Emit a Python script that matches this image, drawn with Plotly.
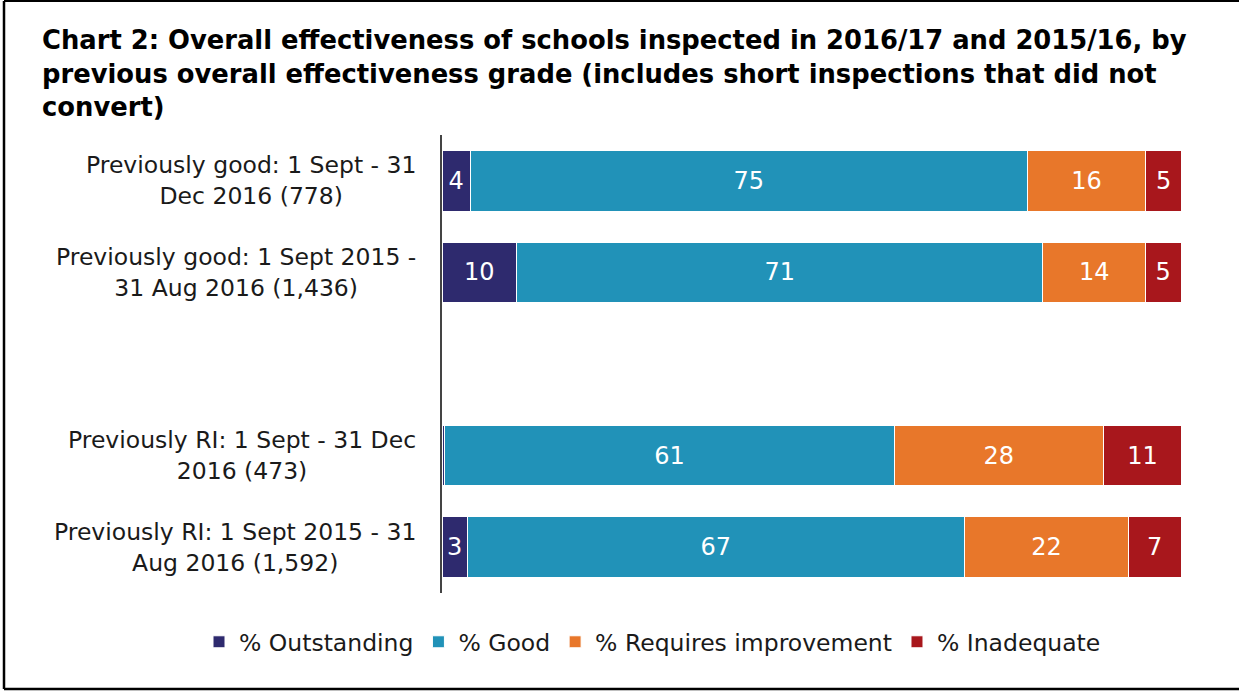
import plotly.graph_objects as go

categories = [
    "Previously good: 1 Sept - 31<br>Dec 2016 (778)",
    "Previously good: 1 Sept 2015 -<br>31 Aug 2016 (1,436)",
    " ",
    "Previously RI: 1 Sept - 31 Dec<br>2016 (473)",
    "Previously RI: 1 Sept 2015 - 31<br>Aug 2016 (1,592)",
]
series_names = ["% Outstanding", "% Good", "% Requires improvement", "% Inadequate"]
outstanding = [3.8, 10.1, None, 0.4, 3.4]
good = [75.4, 71.2, None, 60.8, 67.3]
requires_improvement = [16.0, 13.9, None, 28.3, 22.2]
inadequate = [4.9, 4.8, None, 10.6, 7.1]
colors = ["#2E2A6E", "#2192B8", "#E8772A", "#A8171C"]

title_lines = [
    "Chart 2: Overall effectiveness of schools inspected in 2016/17 and 2015/16, by",
    "previous overall effectiveness grade (includes short inspections that did not",
    "convert)",
]

W, H = 1239, 697
L, R, T, B = 442, 58, 135, 104
pw, ph = W - L - R, H - T - B
FONT = "Tahoma, 'DejaVu Sans', sans-serif"


def px_x(px):
    return (px - L) / pw


def px_y(py):
    return (H - B - py) / ph


fig = go.Figure()
for name, vals, col in zip(series_names, [outstanding, good, requires_improvement, inadequate], colors):
    txt = [("" if (v is None or v < 1) else f"{v:.0f}") for v in vals]
    fig.add_trace(go.Bar(
        y=categories, x=vals, name=name, orientation="h",
        marker=dict(color=col, line=dict(color="white", width=1)),
        text=txt, textposition="inside", insidetextanchor="middle",
        textfont=dict(color="white", size=24, family=FONT),
        hoverinfo="x+name",
    ))

# category labels (centered multi-line, right-anchored)
for c in categories:
    if c.strip():
        fig.add_annotation(
            x=px_x(418), xref="paper", y=c, yref="y",
            text=c, showarrow=False, xanchor="right", align="center",
            font=dict(size=23.5, color="#1a1a1a", family=FONT),
        )

# title
fig.add_annotation(
    x=px_x(40), xref="paper", y=px_y(23), yref="paper",
    text="<b>" + "<br>".join(title_lines) + "</b>", showarrow=False,
    xanchor="left", yanchor="top", align="left",
    font=dict(size=25.8, color="black", family=FONT),
)

# frame: top, left, bottom lines
fig.add_shape(type="line", xref="paper", yref="paper", x0=px_x(4), x1=px_x(1260), y0=px_y(1), y1=px_y(1),
              line=dict(color="black", width=2))
fig.add_shape(type="line", xref="paper", yref="paper", x0=px_x(4), x1=px_x(4), y0=px_y(1), y1=px_y(689),
              line=dict(color="black", width=2.5))
fig.add_shape(type="line", xref="paper", yref="paper", x0=px_x(4), x1=px_x(1260), y0=px_y(689), y1=px_y(689),
              line=dict(color="black", width=2.5))

fig.update_layout(
    width=W, height=H,
    barmode="stack", bargap=0.34,
    paper_bgcolor="white", plot_bgcolor="white",
    margin=dict(l=L, r=R, t=T, b=B, autoexpand=False),
    xaxis=dict(range=[0, 100], visible=False, fixedrange=True),
    yaxis=dict(categoryorder="array", categoryarray=categories, autorange="reversed",
               showticklabels=False, ticks="", showgrid=False, zeroline=False,
               showline=True, linecolor="#444", linewidth=1.5),
    legend=dict(orientation="h", xref="paper", x=px_x(199), xanchor="left",
                yref="paper", y=px_y(642), yanchor="middle",
                font=dict(size=23.5, color="#1a1a1a", family=FONT), traceorder="normal"),
    showlegend=True,
    uniformtext=dict(mode="show", minsize=10),
)

fig.write_html("out.html")
